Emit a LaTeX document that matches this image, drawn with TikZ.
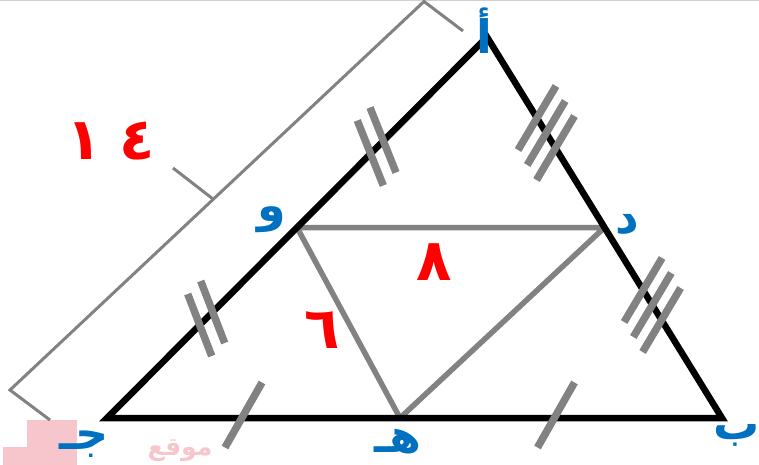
\documentclass[tikz,border=0pt]{standalone}
\usepackage{fontspec}
\newfontfamily\arabicfont[Script=Arabic]{DejaVu Sans}
\TeXXeTstate=1
\definecolor{lblblue}{RGB}{0,112,192}
\definecolor{numred}{RGB}{255,0,0}
\definecolor{midgray}{RGB}{130,130,130}
\definecolor{wmpink}{RGB}{247,198,204}
\begin{document}
\begin{tikzpicture}[x=1pt,y=-1pt,
  outer/.style={black,line width=6.5pt,line join=miter},
  inner/.style={midgray,line width=5.5pt,line join=round},
  hashmark/.style={midgray,line width=7.5pt},
  bracket/.style={midgray,line width=3pt},
  vlabel/.style={text=lblblue,font=\arabicfont\bfseries\fontsize{46}{56}\selectfont,inner sep=0pt},
  numlabel/.style={text=numred,font=\arabicfont\bfseries\fontsize{58}{68}\selectfont,inner sep=0pt}]
\useasboundingbox (0,0) rectangle (759,465);
% light top border
\draw[black!18,line width=1pt] (0,0.5) -- (759,0.5);
% watermark
\fill[wmpink] (27,420) rectangle (77,465);
\fill[wmpink] (3,447) rectangle (27,465);
\node[text=wmpink,font=\arabicfont\bfseries\fontsize{25}{30}\selectfont,inner sep=0pt] (wm) at (180,451) {\beginR موقع\endR};
% vertices
\coordinate (A) at (487,37);
\coordinate (B) at (722,418);
\coordinate (C) at (107,418);
\coordinate (W) at (297,227.5);
\coordinate (D) at (604.5,227.5);
\coordinate (H) at (400,418);
% bracket
\coordinate (bt) at (424,1.5);
\coordinate (bt1) at (463,31);
\coordinate (bb) at (10,390);
\coordinate (bb1) at (50,420);
\coordinate (bm) at (213,199);
\coordinate (bm1) at (173,168);
\draw[bracket,line join=miter] (bt1) -- (bt) -- (bb) -- (bb1);
\draw[bracket] (bm) -- (bm1);
% inner triangle
\draw[inner] (W) -- (D) -- (H) -- cycle;
% outer triangle
\draw[outer] (A) -- (B) -- (C) -- cycle;
% tick marks
\foreach \p in {(370.3,153),(383,140)} \draw[hashmark] \p ++(-13,-32.5) -- ++(26,65);
\foreach \p in {(199.7,325),(212.7,312)} \draw[hashmark] \p ++(-12,-31) -- ++(24,62);
\foreach \p in {(537,118),(546.2,133),(555.5,148)} \draw[hashmark] \p ++(19,-32) -- ++(-38,64);
\foreach \p in {(643.1,290),(652.3,305),(661.6,320)} \draw[hashmark] \p ++(19,-32) -- ++(-38,64);
\foreach \p in {(243.5,415),(556,415)} \draw[hashmark] \p ++(18.5,-32.5) -- ++(-37,65);
% vertex labels
\node[vlabel] (lA) at (484,31) {\beginR أ\endR};
\node[vlabel] (lW) at (272,220) {\beginR و\endR};
\node[vlabel] (lD) at (627,225) {\beginR د\endR};
\node[vlabel] (lB) at (737,435) {\beginR ب\endR};
\node[vlabel] (lH) at (398,442) {\beginR هـ\endR};
\node[vlabel] (lC) at (84,444) {\beginR جـ\endR};
% lengths
\node[numlabel] (n14) at (111,141) {١\hspace{18pt}٤};
\node[numlabel] (n8) at (434,262) {٨};
\node[numlabel] (n6) at (322,330) {٦};
\end{tikzpicture}
\end{document}
